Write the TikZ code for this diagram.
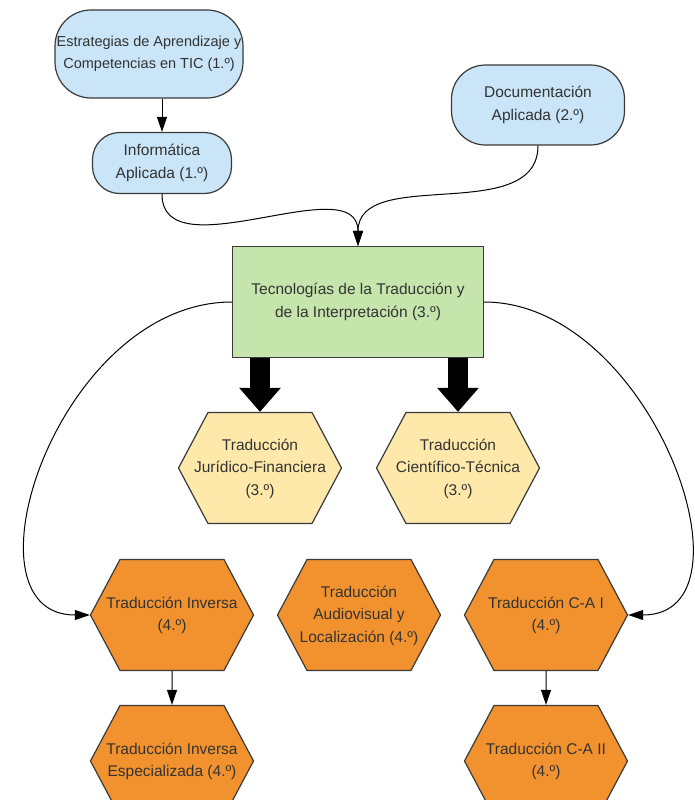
\documentclass[tikz,border=0pt]{standalone}
\usepackage{fontspec}
\setmainfont{Liberation Sans}
\usetikzlibrary{arrows.meta,shapes.symbols}
\definecolor{ink}{HTML}{333333}
\definecolor{ln}{HTML}{3A3A3A}
\definecolor{blf}{HTML}{C9E5F7}
\definecolor{gnf}{HTML}{C5E5AC}
\definecolor{ylf}{HTML}{FEE8AA}
\definecolor{orf}{HTML}{F2922F}
\tikzset{
  base/.style={draw=ln,line width=1.2pt,align=center,text=ink,inner sep=0pt,font=\fontsize{15.5}{22.5}\selectfont},
  term/.style={base,fill=blf,rectangle,rounded corners=34pt},
  proc/.style={base,fill=gnf,rectangle,minimum width=251pt,minimum height=111pt},
  hexa/.style={base,signal,signal to=west and east,signal pointer angle=124,minimum height=111pt},
  hexy/.style={hexa,fill=ylf},
  hexo/.style={hexa,fill=orf},
  arr/.style={-{Triangle[length=15pt,width=10pt]},line width=1pt,black},
  fat/.style={-{Triangle[length=24pt,width=40pt]},line width=20pt,black}
}
% text of a hexagon: runs past the flat top into the slanted sides
\newcommand{\hexlbl}[1]{\makebox[104pt]{\begin{tabular}{@{}c@{}}#1\end{tabular}}}

\begin{document}
\begin{tikzpicture}[x=1pt,y=1pt]
\clip (0,0) rectangle (695,-800);
% ================= first years =================
\node[term,minimum width=188pt,minimum height=88pt,rounded corners=36pt,font=\fontsize{14.5}{22}\selectfont] (estr) at (149,-54) {Estrategias de Aprendizaje y\\Competencias en TIC (1.º)};
\node[term,minimum width=139pt,minimum height=61pt,rounded corners=27pt] (info) at (162,-163) {Informática\\Aplicada (1.º)};
\node[term,minimum width=173pt,minimum height=80pt] (docu) at (538,-105) {Documentación\\Aplicada (2.º)};
\draw[arr] (info.north |- estr.south) -- (info.north);
% ================= third year =================
\node[proc] (tec) at (358,-302) {Tecnologías de la Traducción y\\de la Interpretación (3.º)};
\draw[arr] (info.south) to[out=-90,in=90] (tec.north);
\draw[arr] (docu.south) to[out=-90,in=90] (tec.north);
\node[hexy] (jur) at (260,-468) {\hexlbl{Traducción\\Jurídico-Financiera\\(3.º)}};
\node[hexy] (cie) at (458,-468) {\hexlbl{Traducción\\Científico-Técnica\\(3.º)}};
\draw[fat] (tec.south -| jur.north) -- (jur.north);
\draw[fat] (tec.south -| cie.north) -- (cie.north);
% ================= fourth year =================
\node[hexo] (inv) at (172,-615) {\hexlbl{Traducción Inversa\\(4.º)}};
\node[hexo] (audio) at (359,-615) {\hexlbl{Traducción\\Audiovisual y\\Localización (4.º)}};
\node[hexo] (cai) at (546,-615) {\hexlbl{Traducción C-A I\\(4.º)}};
\node[hexo] (inve) at (172,-761) {\hexlbl{Traducción Inversa\\Especializada (4.º)}};
\node[hexo] (caii) at (546,-761) {\hexlbl{Traducción C-A II\\(4.º)}};
\draw[arr] (tec.west) to[out=180,in=180,out looseness=1.3,in looseness=1] (inv.west);
\draw[arr] (tec.east) to[out=0,in=0,out looseness=1.25,in looseness=1] (cai.east);
\draw[arr] (inv) -- (inve);
\draw[arr] (cai) -- (caii);
\end{tikzpicture}
\end{document}
